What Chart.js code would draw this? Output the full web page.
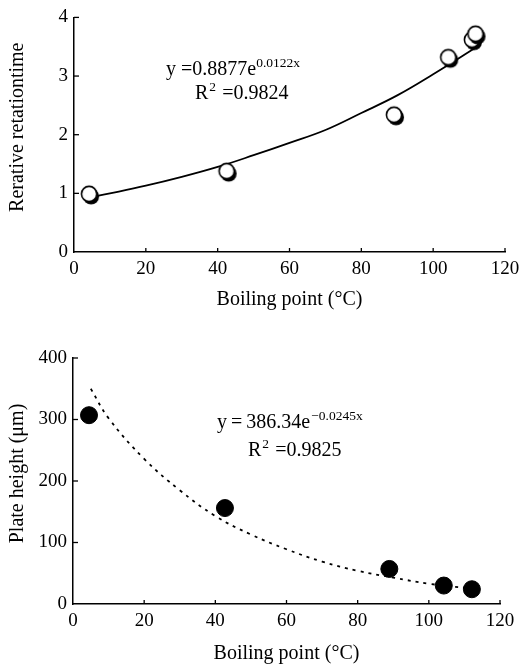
<!DOCTYPE html>
<html>
<head>
<meta charset="utf-8">
<script src="https://cdn.jsdelivr.net/npm/chart.js@4/dist/chart.umd.min.js"></script>
<style>
  html, body { margin:0; padding:0; background:#fff; }
  .box { position:absolute; left:0; width:531px; }
</style>
</head>
<body>
<div class="box" style="top:0;height:330px;"><canvas id="rtChart" width="531" height="330"></canvas></div>
<div class="box" style="top:330px;height:336px;"><canvas id="phChart" width="531" height="336"></canvas></div>
<script>
const boilingTop = [4.2, 42.5, 89.1, 104.2, 110.8, 111.8];
const retention = [0.99, 1.38, 2.34, 3.32, 3.62, 3.72];
const fitTopX = [5, 10, 20, 30, 40, 50, 60, 70, 80, 90, 100, 112];
const fitTopY = [0.94, 1.00, 1.13, 1.28, 1.45, 1.65, 1.86, 2.08, 2.37, 2.67, 3.03, 3.49];

const boilingBot = [4.5, 42.7, 88.9, 104.2, 112.1];
const plateHeight = [307, 156, 57, 30, 24];
const fitBotX = [5, 10, 20, 30, 40, 50, 60, 70, 80, 90, 100, 112];
const fitBotY = [350, 302, 236, 185, 143, 113, 89, 69, 54, 43, 33, 25];

const xTicks = [0, 20, 40, 60, 80, 100, 120];
const FONT = "'Liberation Serif', 'Times New Roman', serif";

const zip = (xs, ys) => xs.map((x, i) => ({ x: x, y: ys[i] }));

// 그림자 있는 흰 원 마커
function shadowCircle() {
    const c = document.createElement('canvas');
    c.width = 26; c.height = 26;
    const g = c.getContext('2d');
    g.fillStyle = '#000';
    g.beginPath(); g.arc(15, 15.5, 8, 0, Math.PI * 2); g.fill();
    g.fillStyle = '#fff'; g.strokeStyle = '#000'; g.lineWidth = 1.6;
    g.beginPath(); g.arc(13, 13, 7.6, 0, Math.PI * 2); g.fill(); g.stroke();
    return c;
}

// 안쪽 눈금
const innerTicks = {
    id: 'innerTicks',
    afterDraw(chart) {
        const ctx = chart.ctx;
        const { x, y } = chart.scales;
        const a = chart.chartArea;
        ctx.save();
        ctx.strokeStyle = '#000'; ctx.lineWidth = 1.3;
        x.ticks.forEach(t => {
            if (t.value === 0) return;
            const px = x.getPixelForValue(t.value);
            ctx.beginPath(); ctx.moveTo(px, a.bottom); ctx.lineTo(px, a.bottom - 4); ctx.stroke();
        });
        y.ticks.forEach(t => {
            if (t.value === 0) return;
            const py = y.getPixelForValue(t.value);
            ctx.beginPath(); ctx.moveTo(a.left, py); ctx.lineTo(a.left + 5, py); ctx.stroke();
        });
        ctx.restore();
    }
};

// 회귀식 텍스트
function equationPlugin(base, sup, r2, pos) {
    return {
        id: 'equation',
        afterDraw(chart) {
            const ctx = chart.ctx;
            ctx.save();
            ctx.fillStyle = '#000';
            ctx.textBaseline = 'alphabetic';
            ctx.font = '20px ' + FONT;
            ctx.fillText(base, pos.x, pos.y);
            const w = ctx.measureText(base).width;
            ctx.font = '13.5px ' + FONT;
            ctx.fillText(sup, pos.x + w + pos.gap, pos.y - 8);
            ctx.font = '20px ' + FONT;
            ctx.fillText('R', pos.rx, pos.ry);
            const rw = ctx.measureText('R').width;
            ctx.font = '13.5px ' + FONT;
            ctx.fillText('2', pos.rx + rw + 1, pos.ry - 8);
            ctx.font = '20px ' + FONT;
            ctx.fillText(r2, pos.rx + rw + 9, pos.ry);
            ctx.restore();
        }
    };
}

function axisOpts(min, max, step, title, fitFn, titlePad) {
    return {
        type: 'linear', min: min, max: max,
        ticks: { stepSize: step, color: '#000', font: { family: FONT, size: 19 }, padding: 6 },
        grid: { display: false, drawTicks: false },
        border: { display: true, color: '#000', width: 1.5 },
        title: { display: true, text: title, color: '#000', font: { family: FONT, size: 20 }, padding: titlePad },
        afterFit: fitFn
    };
}

new Chart(document.getElementById('rtChart'), {
    data: {
        datasets: [
            { type: 'scatter', data: zip(boilingTop, retention), pointStyle: shadowCircle(), order: 0 },
            { type: 'line', data: zip(fitTopX, fitTopY), borderColor: '#000', borderWidth: 1.8,
              pointRadius: 0, tension: 0.4, fill: false, order: 1 }
        ]
    },
    options: {
        responsive: false, animation: false,
        layout: { padding: { top: 14, right: 26, left: 0, bottom: 0 } },
        plugins: { legend: { display: false }, tooltip: { enabled: false } },
        scales: {
            x: Object.assign(axisOpts(0, 120, 20, 'Boiling point (°C)', s => { s.height = 78; }, { top: 0, bottom: 18 }),
                { afterBuildTicks: s => { s.ticks = xTicks.map(v => ({ value: v })); } }),
            y: axisOpts(0, 4, 1, '   Rerative retationtime', s => { s.width = 74; }, { top: 6, bottom: 0 })
        }
    },
    plugins: [innerTicks, equationPlugin('y =0.8877e', '0.0122x', ' =0.9824', { x: 166, y: 75, gap: 0, rx: 195, ry: 99 })]
});

new Chart(document.getElementById('phChart'), {
    data: {
        datasets: [
            { type: 'scatter', data: zip(boilingBot, plateHeight), pointRadius: 8.5,
              backgroundColor: '#000', borderColor: '#000', order: 0 },
            { type: 'line', data: zip(fitBotX, fitBotY), borderColor: '#000', borderWidth: 1.8,
              borderDash: [3, 5], pointRadius: 0, tension: 0.4, fill: false, order: 1 }
        ]
    },
    options: {
        responsive: false, animation: false,
        layout: { padding: { top: 28, right: 31, left: 0, bottom: 0 } },
        plugins: { legend: { display: false }, tooltip: { enabled: false } },
        scales: {
            x: Object.assign(axisOpts(0, 120, 20, 'Boiling point (°C)', s => { s.height = 62; }, { top: 0, bottom: 0 }),
                { afterBuildTicks: s => { s.ticks = xTicks.map(v => ({ value: v })); } }),
            y: axisOpts(0, 400, 100, '   Plate height (μm)', s => { s.width = 73; }, { top: 6, bottom: 0 })
        }
    },
    plugins: [innerTicks, equationPlugin('y\u2009=\u2009386.34e', '\u22120.0245x', ' =0.9825', { x: 217, y: 98, gap: 1, rx: 248, ry: 126 })]
});
</script>
</body>
</html>
